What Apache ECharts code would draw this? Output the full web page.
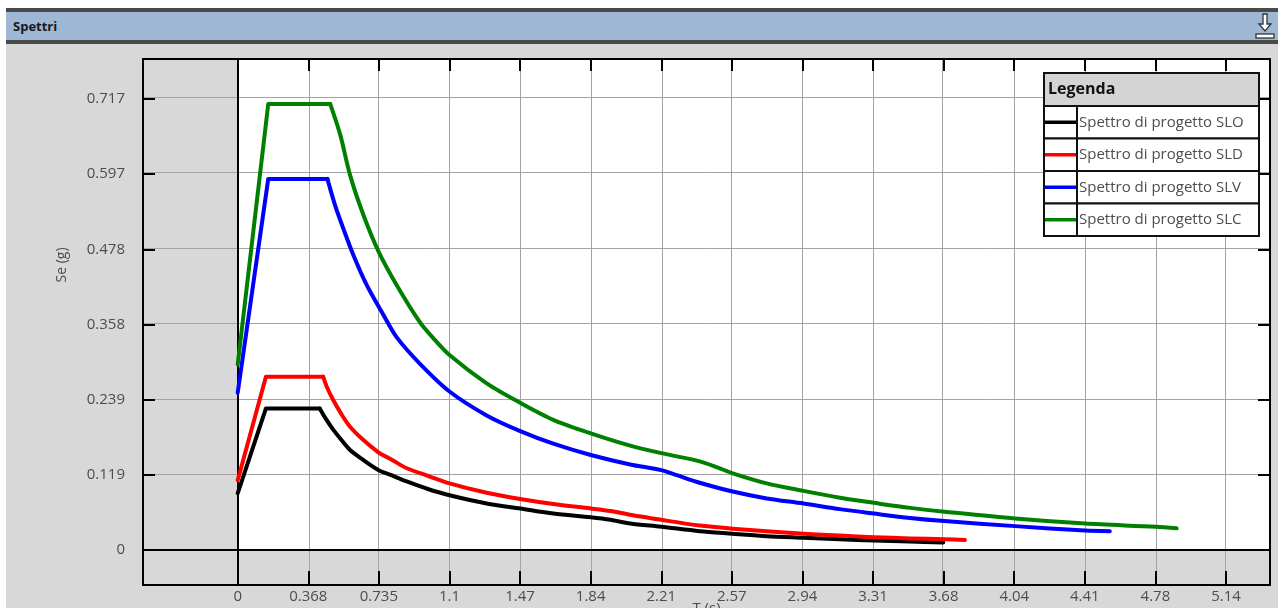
<!DOCTYPE html>
<html><head><meta charset="utf-8">
<script src="https://cdn.jsdelivr.net/npm/echarts@6/dist/echarts.min.js"></script>
<style>
html,body{margin:0;padding:0;background:#fff;}
#wrap{position:relative;width:1281px;height:608px;overflow:hidden;background:#fff;}
#panel{position:absolute;left:6px;top:44px;width:1272px;height:564px;background:#d8d8d8;}
#bar{position:absolute;left:6px;top:8px;width:1272px;height:28px;background:#9db7d5;border-top:4px solid #4a4a4a;border-bottom:4px solid #4a4a4a;}
#bar span{position:absolute;left:7px;top:5px;font:bold 13px "Open Sans",sans-serif;color:#1a1a1a;}
#icon{position:absolute;left:1252px;top:12px;}
#chart{position:absolute;left:0;top:0;width:1281px;height:608px;}
</style></head><body>
<div id="wrap">
<div id="bar"><span>Spettri</span></div>
<svg id="icon" width="26" height="30" viewBox="0 0 26 30">
<path d="M11 2 H15 V12 H19 L13 19 L7 12 H11 Z" fill="#fff" stroke="#333" stroke-width="1.3"/>
<rect x="4" y="22" width="18" height="4" fill="#fff" stroke="#333" stroke-width="1.3"/>
</svg>
<div id="panel"></div>
<div id="chart"></div>
</div>
<script>
// Tick values and labels
const X_TICKS = [0, 0.3675, 0.735, 1.1025, 1.47, 1.8375, 2.205, 2.5725, 2.94, 3.3075, 3.675, 4.0425, 4.41, 4.7775, 5.145];
const X_LABELS = ['0', '0.368', '0.735', '1.1', '1.47', '1.84', '2.21', '2.57', '2.94', '3.31', '3.68', '4.04', '4.41', '4.78', '5.14'];
const Y_TICKS = [0, 0.1195, 0.239, 0.3585, 0.478, 0.5975, 0.717];
const Y_LABELS = ['0', '0.119', '0.239', '0.358', '0.478', '0.597', '0.717'];

// Series names and colours
const SERIES_NAMES = ['Spettro di progetto SLO', 'Spettro di progetto SLD', 'Spettro di progetto SLV', 'Spettro di progetto SLC'];
const SERIES_COLORS = ['#000000', '#ff0000', '#0000ff', '#008000'];

// SLO
const T_SLO = [0, 0.147, 0.427, 0.46, 0.498, 0.54, 0.585, 0.65, 0.734, 0.80, 0.88, 0.99, 1.1025, 1.296, 1.471, 1.643, 1.838, 1.94, 2.043, 2.205, 2.405, 2.577, 2.754, 2.945, 3.135, 3.312, 3.50, 3.673];
const SE_SLO = [0.090, 0.225, 0.225, 0.208, 0.191, 0.175, 0.159, 0.144, 0.127, 0.119, 0.109, 0.097, 0.087, 0.074, 0.066, 0.058, 0.052, 0.048, 0.042, 0.037, 0.030, 0.026, 0.022, 0.0195, 0.017, 0.015, 0.0135, 0.012];
// SLD
const T_SLD = [0, 0.147, 0.445, 0.463, 0.498, 0.54, 0.585, 0.65, 0.734, 0.80, 0.88, 0.99, 1.1025, 1.296, 1.471, 1.643, 1.838, 1.94, 2.043, 2.205, 2.405, 2.577, 2.754, 2.945, 3.135, 3.312, 3.50, 3.68, 3.786];
const SE_SLD = [0.111, 0.2755, 0.2755, 0.260, 0.238, 0.216, 0.196, 0.176, 0.155, 0.144, 0.130, 0.118, 0.106, 0.091, 0.081, 0.073, 0.066, 0.062, 0.056, 0.048, 0.039, 0.034, 0.030, 0.026, 0.023, 0.0205, 0.0185, 0.017, 0.016];
// SLV
const T_SLV = [0, 0.159, 0.467, 0.507, 0.55, 0.602, 0.672, 0.758, 0.828, 0.949, 1.1025, 1.296, 1.471, 1.643, 1.838, 2.043, 2.205, 2.286, 2.405, 2.577, 2.754, 2.945, 3.135, 3.312, 3.50, 3.68, 4.047, 4.41, 4.54];
const SE_SLV = [0.250, 0.590, 0.590, 0.548, 0.511, 0.469, 0.421, 0.374, 0.338, 0.296, 0.252, 0.214, 0.189, 0.169, 0.151, 0.136, 0.127, 0.119, 0.107, 0.093, 0.082, 0.074, 0.065, 0.058, 0.051, 0.046, 0.038, 0.031, 0.030];
// SLC
const T_SLC = [0, 0.159, 0.482, 0.534, 0.585, 0.654, 0.734, 0.828, 0.949, 1.018, 1.1025, 1.296, 1.471, 1.643, 1.838, 2.043, 2.205, 2.405, 2.50, 2.577, 2.754, 2.945, 3.135, 3.312, 3.50, 3.68, 4.047, 4.41, 4.78, 4.888];
const SE_SLC = [0.295, 0.709, 0.709, 0.660, 0.596, 0.533, 0.474, 0.421, 0.362, 0.337, 0.310, 0.265, 0.234, 0.207, 0.1855, 0.166, 0.154, 0.141, 0.131, 0.122, 0.106, 0.094, 0.083, 0.075, 0.067, 0.061, 0.050, 0.042, 0.037, 0.0345];

const SERIES_T = [T_SLO, T_SLD, T_SLV, T_SLC];
const SERIES_SE = [SE_SLO, SE_SLD, SE_SLV, SE_SLC];
// index of the end of the plateau (corner) in each array
const PLATEAU_END = 2;

const XMIN = -0.493, XMAX = 5.374, YMIN = -0.0556, YMAX = 0.7806;
const FONT = '"Open Sans", sans-serif';
const LABEL_COLOR = '#4d4d4d';

function lab(ticks, labels) {
  return function (v) {
    for (let i = 0; i < ticks.length; i++) if (Math.abs(ticks[i] - v) < 1e-6) return labels[i];
    return '';
  };
}

const chart = echarts.init(document.getElementById('chart'), null, {renderer: 'canvas'});

const gridLines = [];
X_TICKS.forEach(v => { if (v !== 0) gridLines.push({xAxis: v}); });
Y_TICKS.forEach(v => { if (v !== 0) gridLines.push({yAxis: v}); });
gridLines.push({xAxis: 0, lineStyle: {color: '#000', width: 2, type: 'solid'}});
gridLines.push({yAxis: 0, lineStyle: {color: '#000', width: 2, type: 'solid'}});

const series = [{
  type: 'line', z: 1, silent: true, animation: false,
  data: [[0, YMAX], [XMAX, YMAX]],
  showSymbol: false, symbol: 'none',
  lineStyle: {width: 0, opacity: 0},
  areaStyle: {color: '#ffffff', opacity: 1},
  markLine: {
    z: 2, silent: true, animation: false, symbol: ['none', 'none'],
    label: {show: false}, emphasis: {disabled: true},
    lineStyle: {color: '#a3a3a3', width: 1, type: 'solid'},
    data: gridLines
  }
}];
SERIES_NAMES.forEach((name, i) => {
  const pts = SERIES_T[i].map((t, k) => [t, SERIES_SE[i][k]]);
  // rising branch + plateau (straight segments)
  series.push({
    name: name, type: 'line', z: 4, animation: false,
    data: pts.slice(0, PLATEAU_END + 1),
    showSymbol: false, symbol: 'none',
    lineStyle: {color: SERIES_COLORS[i], width: 4, cap: 'round', join: 'round'},
    itemStyle: {color: SERIES_COLORS[i]}
  });
  // decaying branch (smooth curve)
  series.push({
    name: name, type: 'line', z: 4, animation: false, smooth: 0.3,
    data: pts.slice(PLATEAU_END),
    showSymbol: false, symbol: 'none',
    lineStyle: {color: SERIES_COLORS[i], width: 4, cap: 'round', join: 'round'},
    itemStyle: {color: SERIES_COLORS[i]}
  });
});

// Legend box (graphic)
const LX = 1044, LY = 73, LW = 215, HH = 33, RH = 32.5, CW = 33;
const Z = 100, ZL = 1;
const legendChildren = [
  {type: 'rect', z: Z, zlevel: ZL, shape: {x: LX, y: LY, width: LW, height: HH}, style: {fill: '#d4d4d4', stroke: '#111', lineWidth: 2}},
  {type: 'text', z: Z + 1, zlevel: ZL, x: LX + 4, y: LY + HH / 2, style: {text: 'Legenda', font: 'bold 16px ' + FONT, fill: '#111', verticalAlign: 'middle'}}
];
SERIES_NAMES.forEach((name, i) => {
  const y = LY + HH + i * RH;
  legendChildren.push({type: 'rect', z: Z, zlevel: ZL, shape: {x: LX, y: y, width: LW, height: RH}, style: {fill: '#fff', stroke: '#111', lineWidth: 2}});
  legendChildren.push({type: 'line', z: Z + 1, zlevel: ZL, shape: {x1: LX + 1, y1: y + RH / 2, x2: LX + CW, y2: y + RH / 2}, style: {stroke: SERIES_COLORS[i], lineWidth: 3.5}});
  legendChildren.push({type: 'text', z: Z + 1, zlevel: ZL, x: LX + CW + 2, y: y + RH / 2, style: {text: name, font: '15px ' + FONT, fill: '#4d4d4d', verticalAlign: 'middle'}});
});
legendChildren.push({type: 'line', z: Z + 2, zlevel: ZL, shape: {x1: LX + CW, y1: LY + HH, x2: LX + CW, y2: LY + HH + 4 * RH}, style: {stroke: '#111', lineWidth: 2}});

const option = {
  backgroundColor: 'transparent',
  animation: false,
  grid: {left: 143, top: 59, width: 1127, height: 526, containLabel: false, outerBoundsMode: 'none', show: false},
  xAxis: [{
    type: 'value', position: 'bottom', min: XMIN, max: XMAX, z: 5,
    axisLine: {show: true, onZero: false, lineStyle: {color: '#000', width: 2}},
    axisTick: {show: true, inside: true, length: 14, customValues: X_TICKS, lineStyle: {color: '#000', width: 2}},
    axisLabel: {show: true, customValues: X_TICKS, formatter: lab(X_TICKS, X_LABELS), color: LABEL_COLOR, fontSize: 15, fontFamily: FONT, margin: 4, showMinLabel: true, showMaxLabel: true},
    splitLine: {show: false},
    name: 'T (s)', nameLocation: 'middle', nameGap: 16, nameMoveOverlap: false,
    nameTextStyle: {color: LABEL_COLOR, fontSize: 15, fontFamily: FONT}
  }, {
    type: 'value', position: 'top', min: XMIN, max: XMAX, z: 5,
    axisLine: {show: true, onZero: false, lineStyle: {color: '#000', width: 2}},
    axisTick: {show: true, inside: true, length: 12, customValues: X_TICKS, lineStyle: {color: '#000', width: 2}},
    axisLabel: {show: false},
    splitLine: {show: false}
  }],
  yAxis: [{
    type: 'value', position: 'left', min: YMIN, max: YMAX, z: 5,
    axisLine: {show: true, onZero: false, lineStyle: {color: '#000', width: 2}},
    axisTick: {show: true, inside: true, length: 12, customValues: Y_TICKS, lineStyle: {color: '#000', width: 2}},
    axisLabel: {show: true, customValues: Y_TICKS, formatter: lab(Y_TICKS, Y_LABELS), color: LABEL_COLOR, fontSize: 15, fontFamily: FONT, margin: 18},
    splitLine: {show: false}
  }, {
    type: 'value', position: 'right', min: YMIN, max: YMAX, z: 5,
    axisLine: {show: true, onZero: false, lineStyle: {color: '#000', width: 2}},
    axisTick: {show: true, inside: true, length: 12, customValues: Y_TICKS, lineStyle: {color: '#000', width: 2}},
    axisLabel: {show: false},
    splitLine: {show: false}
  }],
  graphic: [
    {type: 'text', x: 62, y: 265, rotation: Math.PI / 2, z: 10,
     style: {text: 'Se (g)', font: '14px ' + FONT, fill: LABEL_COLOR, align: 'center', verticalAlign: 'middle'}},
    {type: 'group', z: Z, zlevel: ZL, children: legendChildren}
  ],
  series: series
};
chart.setOption(option);
</script>
</body></html>
